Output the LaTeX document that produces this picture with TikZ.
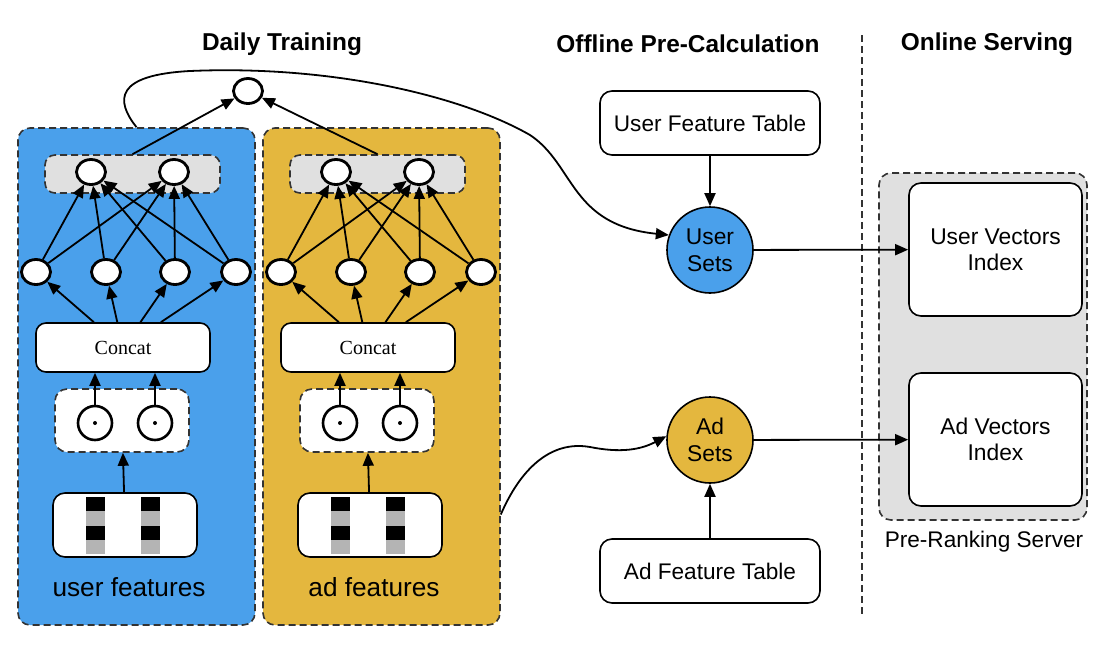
\documentclass[tikz,border=0pt]{standalone}
\usepackage{fontspec}
\setmainfont{Liberation Sans}
\newfontfamily\concatfont{Liberation Serif}
\usepackage{xcolor}
\usepackage{tikz}
\usetikzlibrary{arrows.meta,positioning,shapes.geometric,calc}

\definecolor{userblue}{HTML}{4AA0EB}
\definecolor{adyellow}{HTML}{E4B73E}
\definecolor{boxgray}{HTML}{E0E0E0}
\definecolor{bargray}{HTML}{B4B4B4}
\definecolor{dashgray}{HTML}{333333}

\begin{document}
\begin{tikzpicture}[x=0.5pt, y=-0.5pt,
  arr/.style={-{Triangle[length=6.5pt,width=5.5pt]}, line width=0.9pt},
  dashbox/.style={draw=dashgray, dash pattern=on 3.5pt off 2pt, line width=0.8pt, rounded corners=6pt, inner sep=0pt},
  neuron/.style={ellipse, draw, line width=1.4pt, fill=white, minimum width=14.5pt, minimum height=12.5pt, inner sep=0pt},
  prod/.style={circle, draw, line width=1.3pt, fill=white, minimum size=17pt, inner sep=0pt},
  whitebox/.style={draw, line width=0.8pt, fill=white, rounded corners=6pt, inner sep=0pt, align=center},
  sets/.style={circle, draw, line width=0.8pt, minimum size=43pt, inner sep=0pt, align=center, font=\fontsize{11.4}{13.5}\selectfont},
  txt/.style={font=\fontsize{11.3}{13}\selectfont},
  title/.style={font=\fontsize{12.2}{14}\selectfont\bfseries}
]

\useasboundingbox (0,0) rectangle (1110,654);

% Section titles
\node[title] (ttrain) at (282,44) {Daily Training};
\node[title] (tcalc) at (688,44) {Offline Pre-Calculation};
\node[title] (tserve) at (987,44) {Online Serving};

% Divider
\draw[dashgray, dash pattern=on 3.5pt off 2pt, line width=0.7pt] (862,35) -- (862,615);

% Two towers: user and ad
\foreach \tw/\off/\col/\lab in {u/0/userblue/user features, a/245/adyellow/ad features} {
  \node[dashbox, fill=\col, minimum width=118.5pt, minimum height=248.5pt] (\tw panel) at (136.5+\off,376.5) {};
  \node[dashbox, fill=boxgray, minimum width=87.5pt, minimum height=19pt, rounded corners=5pt] (\tw emb) at (132.5+\off,174) {};
  \node[neuron] (\tw e1) at (91+\off,172) {};
  \node[neuron] (\tw e2) at (174+\off,172) {};
  \foreach \i/\x in {1/36,2/106,3/175,4/236}
    \node[neuron] (\tw h\i) at (\x+\off,272) {};
  \node[whitebox, minimum width=87pt, minimum height=24.5pt, rounded corners=5pt, font=\concatfont\fontsize{10}{12}\selectfont] (\tw cat) at (123+\off,347.5) {Concat};
  \node[dashbox, fill=white, minimum width=67pt, minimum height=31.5pt] (\tw prodbox) at (122+\off,420.5) {};
  \node[prod] (\tw p1) at (95+\off,423) {};
  \node[prod] (\tw p2) at (155+\off,423) {};
  \fill (\tw p1) circle (1pt);
  \fill (\tw p2) circle (1pt);
  \node[whitebox, minimum width=72pt, minimum height=32pt] (\tw feat) at (125+\off,525) {};
  % sparse feature bars
  \foreach \bx in {86,141} {
    \fill[black] (\bx+\off,497) rectangle (\bx+19+\off,511);
    \fill[bargray] (\bx+\off,511) rectangle (\bx+19+\off,526);
    \fill[black] (\bx+\off,526) rectangle (\bx+19+\off,540);
    \fill[bargray] (\bx+\off,540) rectangle (\bx+19+\off,554);
  }
  \node[font=\fontsize{13.1}{15}\selectfont] (\tw lab) at (129+\off,587) {\lab};
  % connections
  \draw[arr] (\tw feat) -- (\tw prodbox);
  \draw[arr] (\tw p1) -- (\tw p1 |- \tw cat.south);
  \draw[arr] (\tw p2) -- (\tw p2 |- \tw cat.south);
  \foreach \i in {1,...,4} {
    \draw[arr] (\tw cat) -- (\tw h\i);
    \draw[arr] (\tw h\i) -- (\tw e1);
    \draw[arr] (\tw h\i) -- (\tw e2);
  }
}

% Output node
\node[neuron] (out) at (248,91) {};
\draw[arr] (uemb.north) -- (out);
\draw[arr] (aemb.north) -- (out);

% Offline pre-calculation
\node[whitebox, txt, minimum width=110pt, minimum height=32pt] (uft) at (710,123) {User Feature Table};
\node[whitebox, txt, minimum width=110pt, minimum height=32pt] (aft) at (710,571) {Ad Feature Table};
\node[sets, fill=userblue] (usets) at (710,250) {User\\Sets};
\node[sets, fill=adyellow] (asets) at (710,440) {Ad\\Sets};
\draw[arr] (uft) -- (usets);
\draw[arr] (aft) -- (asets);

% Online serving
\node[dashbox, fill=boxgray, minimum width=104pt, minimum height=173.5pt] (server) at (983,346.5) {};
\node[whitebox, font=\fontsize{11.4}{13}\selectfont, minimum width=86.5pt, minimum height=66.5pt] (uvi) at (995.5,249.5) {User Vectors\\Index};
\node[whitebox, font=\fontsize{11.4}{13}\selectfont, minimum width=86.5pt, minimum height=66.5pt] (avi) at (995.5,439.5) {Ad Vectors\\Index};
\node[txt] (slab) at (984,542) {Pre-Ranking Server};
\draw[arr] (usets) -- (uvi);
\draw[arr] (asets) -- (avi);

% Trained towers feed the pre-calculation
\draw[arr] (upanel.north) .. controls (115,100) and (115,75) .. (190,71)
  .. controls (330,65) and (460,95) .. (530,135)
  .. controls (575,165) and (570,225) .. (usets.160);
\draw[arr] ([yshift=-69pt]apanel.east) .. controls (520,470) and (550,440) .. (590,447)
  .. controls (620,453) and (640,450) .. (asets.175);

\end{tikzpicture}
\end{document}
